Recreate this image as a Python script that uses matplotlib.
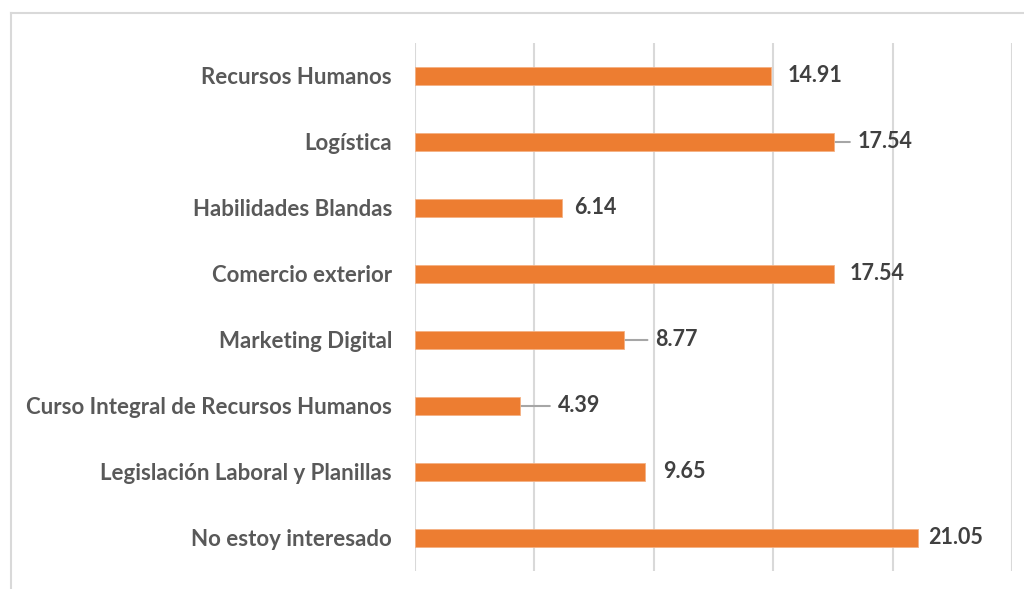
import matplotlib.pyplot as plt

categories = ["Recursos Humanos", "Logística", "Habilidades Blandas", "Comercio exterior",
              "Marketing Digital", "Curso Integral de Recursos Humanos",
              "Legislación Laboral y Planillas", "No estoy interesado"]
values = [14.91, 17.54, 6.14, 17.54, 8.77, 4.39, 9.65, 21.05]
# label offset from bar end, in pixels; leader line drawn when gap is wide
label_gap = [17, 24, 13, 16, 31, 38, 18, 10]

plt.rcParams['font.family'] = ['Lato', 'DejaVu Sans']

fig = plt.figure(figsize=(10.24, 5.89), dpi=100)
ax = fig.add_axes([415/1024, 18/589, (1012-415)/1024, (571-43)/589])

# light outer frame like the Excel chart area
fig.add_artist(plt.Line2D([11/1024, 11/1024], [0, 1-13/589], transform=fig.transFigure,
                          color='#D9D9D9', lw=1.5))
fig.add_artist(plt.Line2D([11/1024, 1], [1-13/589, 1-13/589], transform=fig.transFigure,
                          color='#D9D9D9', lw=1.5))

y = list(range(len(categories)))
ax.barh(y, values, height=0.26, color='#ED7D31', edgecolor='#F4B183', linewidth=0.6, zorder=3)

ax.set_xlim(0, 25)
ax.set_ylim(len(categories) - 0.5, -0.5)
ax.set_xticks([0, 5, 10, 15, 20, 25])
ax.xaxis.grid(True, color='#D9D9D9', lw=1.5, zorder=0)
ax.tick_params(axis='x', length=0, labelbottom=False)
ax.tick_params(axis='y', length=0, pad=16.5)
ax.set_yticks(y)
ax.set_yticklabels(categories, fontsize=16, fontweight='bold', color='#595959')
for s in ax.spines.values():
    s.set_visible(False)

for yi, v, g in zip(y, values, label_gap):
    ax.annotate(f"{v:.2f}", xy=(v, yi), xytext=(g, 0), textcoords='offset pixels',
                ha='left', va='center', fontsize=15.5, fontweight='bold', color='#404040',
                zorder=4)
    if g > 20:
        ax.annotate("", xy=(v, yi), xytext=(g - 8, 0), textcoords='offset pixels',
                    arrowprops=dict(arrowstyle='-', color='#A6A6A6', lw=1.5,
                                    shrinkA=0, shrinkB=0), zorder=2)

fig.savefig("out.png", dpi=100)
